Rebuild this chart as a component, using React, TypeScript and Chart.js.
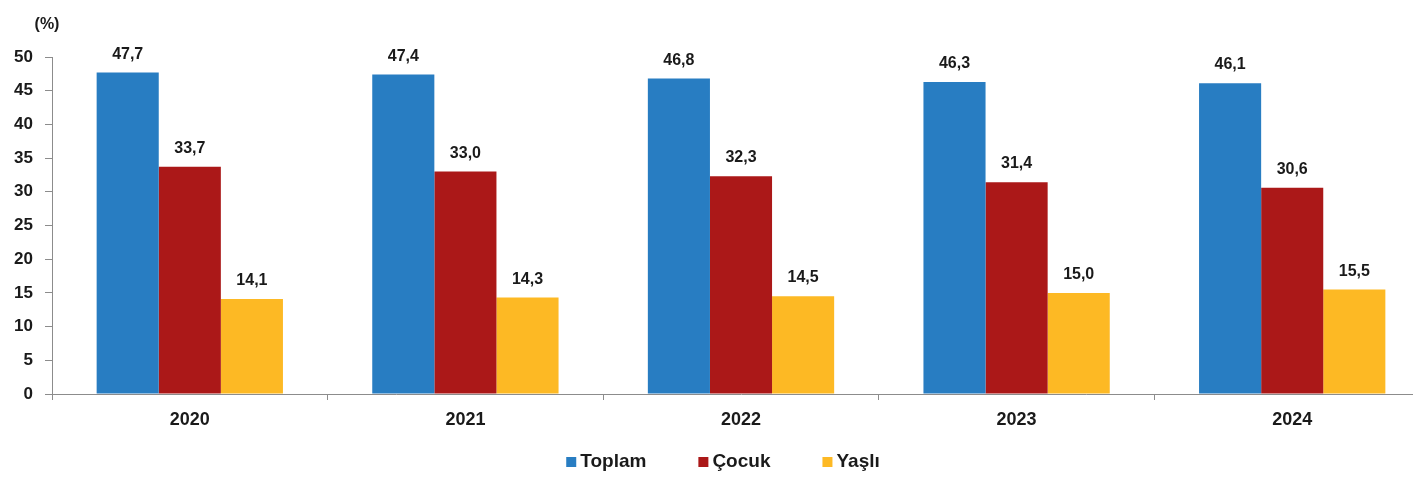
import React, { useEffect, useRef } from "react";
import { Chart, registerables } from "chart.js";

Chart.register(...registerables);

const years = ["2020", "2021", "2022", "2023", "2024"];
const seriesNames = ["Toplam", "Çocuk", "Yaşlı"];
const toplam = [47.7, 47.4, 46.8, 46.3, 46.1];
const cocuk = [33.7, 33.0, 32.3, 31.4, 30.6];
const yasli = [14.1, 14.3, 14.5, 15.0, 15.5];
const yTicks = [0, 5, 10, 15, 20, 25, 30, 35, 40, 45, 50];

const COLORS = ["#287DC2", "#AB1818", "#FDB924"];
const FONT = "'Liberation Sans', Arial, sans-serif";
const AXIS = "#8c8c8c";
const TEXT = "#1a1a1a";

const labelPlugin = {
  id: "valueLabels",
  afterDatasetsDraw(chart: any) {
    const ctx = chart.ctx;
    ctx.save();
    ctx.font = `bold 16px ${FONT}`;
    ctx.fillStyle = TEXT;
    ctx.textAlign = "center";
    ctx.textBaseline = "alphabetic";
    chart.data.datasets.forEach((ds: any, di: number) => {
      const meta = chart.getDatasetMeta(di);
      meta.data.forEach((bar: any, i: number) => {
        const v = ds.data[i] as number;
        ctx.fillText(v.toFixed(1).replace(".", ","), bar.x, bar.y - 14);
      });
    });
    // unit label
    ctx.font = `bold 16px ${FONT}`;
    ctx.textAlign = "center";
    ctx.textBaseline = "middle";
    ctx.fillText("(%)", 47, 25);
    ctx.restore();
  },
};

const legendPlugin = {
  id: "customLegend",
  afterDraw(chart: any) {
    const ctx = chart.ctx;
    ctx.save();
    ctx.font = `bold 19px ${FONT}`;
    const box = 10;
    const gapBoxText = 4;
    const gapItems = 52;
    const items = chart.data.datasets.map((ds: any) => ({
      label: ds.label,
      color: ds.backgroundColor,
      w: ctx.measureText(ds.label).width,
    }));
    const total =
      items.reduce((a: number, it: any) => a + box + gapBoxText + it.w, 0) +
      gapItems * (items.length - 1);
    let x = 723 - total / 2;
    const baseline = 467;
    ctx.textBaseline = "alphabetic";
    ctx.textAlign = "left";
    items.forEach((it: any) => {
      ctx.fillStyle = it.color;
      ctx.fillRect(x, baseline - 10, box, box);
      x += box + gapBoxText;
      ctx.fillStyle = TEXT;
      ctx.fillText(it.label, x, baseline);
      x += it.w + gapItems;
    });
    ctx.restore();
  },
};

export default function App() {
  const ref = useRef<HTMLCanvasElement>(null);
  useEffect(() => {
    if (!ref.current) return;
    const chart = new Chart(ref.current, {
      type: "bar",
      data: {
        labels: years,
        datasets: [
          { label: seriesNames[0], data: toplam, backgroundColor: COLORS[0] },
          { label: seriesNames[1], data: cocuk, backgroundColor: COLORS[1] },
          { label: seriesNames[2], data: yasli, backgroundColor: COLORS[2] },
        ],
      },
      options: {
        animation: false,
        responsive: false,
        maintainAspectRatio: false,
        datasets: { bar: { categoryPercentage: 0.676, barPercentage: 1.0 } },
        layout: { padding: { top: 57, left: 0, right: 0, bottom: 51 } },
        plugins: {
          tooltip: { enabled: false },
          legend: { display: false },
        },
        scales: {
          x: {
            grid: {
              display: true,
              drawOnChartArea: false,
              drawTicks: true,
              tickLength: 6,
              color: AXIS,
              offset: true,
            },
            border: { display: true, color: AXIS, width: 1 },
            ticks: {
              color: TEXT,
              padding: 9,
              font: { family: FONT, size: 18, weight: "bold" },
            },
            afterFit: (s: any) => {
              s.height = 42;
            },
          },
          y: {
            min: 0,
            max: 50,
            afterBuildTicks: (s: any) => {
              s.ticks = yTicks.map((v) => ({ value: v }));
            },
            grid: {
              display: true,
              drawOnChartArea: false,
              drawTicks: true,
              tickLength: 7,
              color: AXIS,
            },
            border: { display: true, color: AXIS, width: 1 },
            ticks: {
              color: TEXT,
              padding: 12,
              font: { family: FONT, size: 17, weight: "bold" },
            },
            afterFit: (s: any) => {
              s.width = 52;
            },
          },
        },
      },
      plugins: [labelPlugin, legendPlugin],
    });
    return () => chart.destroy();
  }, []);
  return (
    <div
      style={{
        position: "absolute",
        left: 0,
        top: 0,
        width: 1413,
        height: 487,
        overflow: "hidden",
        background: "#fff",
      }}
    >
      <canvas ref={ref} width={1430} height={487} style={{ display: "block" }} />
    </div>
  );
}
